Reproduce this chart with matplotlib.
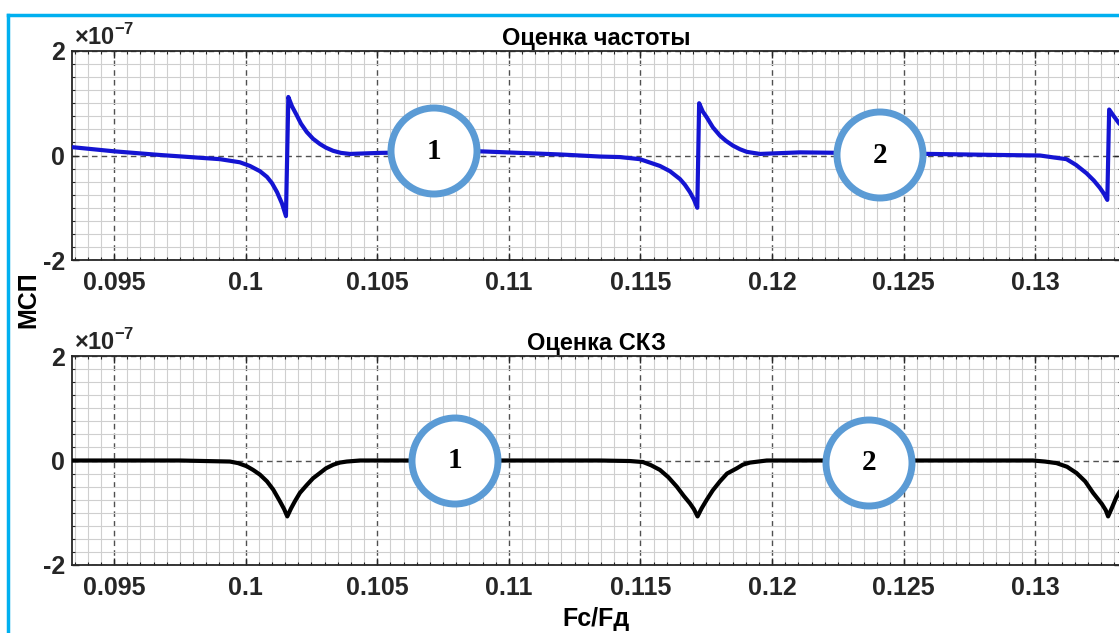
import matplotlib
matplotlib.use("Agg")
import matplotlib.pyplot as plt
from matplotlib.patches import Ellipse
from matplotlib.lines import Line2D
from matplotlib.ticker import FixedLocator, MultipleLocator
import numpy as np

plt.rcParams['font.family'] = ['Liberation Sans', 'DejaVu Sans']
plt.rcParams['font.weight'] = 'bold'
plt.rcParams['mathtext.fontset'] = 'custom'
plt.rcParams['mathtext.rm'] = 'Liberation Sans:bold'
plt.rcParams['mathtext.bf'] = 'Liberation Sans:bold'

# values in units of 1e-7
freq_x = [0.0934, 0.0950, 0.09674, 0.09902, 0.09978, 0.10016, 0.10054, 0.10081,
          0.10100, 0.10119, 0.10138, 0.10153, 0.10162, 0.10176, 0.10194, 0.10210,
          0.10232, 0.10256, 0.10282, 0.10305, 0.10332, 0.10362, 0.10396, 0.10510,
          0.10890, 0.11042, 0.11194, 0.11346, 0.11422, 0.11498, 0.11574, 0.11612,
          0.11650, 0.11669, 0.11688, 0.11703, 0.11716, 0.11723, 0.11737, 0.11752,
          0.11775, 0.11802, 0.11825, 0.11851, 0.11878, 0.11904, 0.11954, 0.12106,
          0.12600, 0.12866, 0.13018, 0.13074, 0.13119, 0.13155, 0.13195, 0.13223,
          0.13246, 0.13261, 0.13274, 0.13281, 0.13299, 0.13318, 0.13326]
freq_y = [0.16, 0.08, 0.01, -0.07, -0.13, -0.20, -0.30, -0.41,
          -0.53, -0.70, -0.92, -1.16, 1.12, 0.94, 0.77, 0.61,
          0.45, 0.32, 0.22, 0.15, 0.09, 0.05, 0.03, 0.05,
          0.08, 0.05, 0.02, -0.02, -0.03, -0.07, -0.20, -0.30,
          -0.45, -0.56, -0.70, -0.84, -1.00, 1.00, 0.84, 0.73,
          0.54, 0.38, 0.28, 0.19, 0.12, 0.07, 0.03, 0.06,
          0.03, 0.01, 0.00, -0.04, -0.07, -0.18, -0.34, -0.48,
          -0.62, -0.73, -0.85, 0.88, 0.75, 0.62, 0.58]

skz_x = [0.0934, 0.0975, 0.09940, 0.09971, 0.10004, 0.10028, 0.10054, 0.10081,
         0.10105, 0.10130, 0.10146, 0.10158, 0.10172, 0.10187, 0.10206, 0.10232,
         0.10256, 0.10282, 0.10305, 0.10333, 0.10358, 0.10384, 0.10434, 0.11346,
         0.11460, 0.11510, 0.11540, 0.11574, 0.11606, 0.11638, 0.11665, 0.11688,
         0.11703, 0.11717, 0.11732, 0.11752, 0.11775, 0.11802, 0.11829, 0.11866,
         0.11889, 0.11916, 0.11980, 0.12549, 0.12991, 0.13037, 0.13081, 0.13121,
         0.13157, 0.13190, 0.13220, 0.13253, 0.13268, 0.13277, 0.13292, 0.13307,
         0.13318, 0.13326]
skz_y = [0.0, 0.0, -0.02, -0.05, -0.11, -0.18, -0.27, -0.40,
         -0.56, -0.78, -0.93, -1.07, -0.92, -0.78, -0.62, -0.47,
         -0.34, -0.24, -0.15, -0.08, -0.04, -0.02, 0.0, 0.0,
         -0.01, -0.03, -0.09, -0.18, -0.32, -0.50, -0.68, -0.82,
         -0.93, -1.07, -0.92, -0.75, -0.57, -0.40, -0.25, -0.15,
         -0.08, -0.04, 0.0, 0.0, 0.0, -0.02, -0.05, -0.12,
         -0.24, -0.40, -0.62, -0.83, -0.95, -1.07, -0.90, -0.72,
         -0.62, -0.56]

xticks = [0.095, 0.1, 0.105, 0.11, 0.115, 0.12, 0.125, 0.13]
xticklabels = ['0.095', '0.1', '0.105', '0.11', '0.115', '0.12', '0.125', '0.13']
yticks = [-2, 0, 2]
titles = ['Оценка частоты', 'Оценка СКЗ']

W, H = 1119, 633
fig = plt.figure(figsize=(W / 100, H / 100), dpi=100)
fig.patch.set_facecolor('white')

ax1 = fig.add_axes([72 / W, (H - 260) / H, 1049 / W, 209 / H])
ax2 = fig.add_axes([72 / W, (H - 565) / H, 1049 / W, 209 / H])

for ax, x, y, c, t in [(ax1, freq_x, freq_y, '#1414d2', titles[0]),
                       (ax2, skz_x, skz_y, 'black', titles[1])]:
    ax.plot(x, y, color=c, lw=3, zorder=3, solid_joinstyle='round')
    ax.set_xlim(0.0934, 0.13326)
    ax.set_ylim(-2, 2)
    ax.xaxis.set_major_locator(FixedLocator(xticks))
    ax.set_xticklabels(xticklabels)
    ax.xaxis.set_minor_locator(MultipleLocator(0.0005))
    ax.set_yticks(yticks)
    ax.set_yticklabels([str(v) for v in yticks])
    ax.yaxis.set_minor_locator(MultipleLocator(0.25))
    ax.grid(which='minor', color='#cfcfcf', lw=0.8, ls='-')
    ax.grid(which='major', color='#505050', lw=1.0, ls=(0, (4, 3)))
    ax.set_axisbelow(True)
    ax.tick_params(which='both', direction='in', top=True, right=True,
                   colors='#262626', labelsize=18)
    ax.tick_params(which='major', length=5, width=1)
    ax.tick_params(which='minor', length=2.5, width=0.8)
    ax.tick_params(axis='x', pad=8)
    ax.tick_params(axis='y', pad=5)
    for s in ax.spines.values():
        s.set_color('#262626')
        s.set_linewidth(1.3)
    ax.set_title(t, fontsize=17, fontweight='bold', pad=4)
    ax.text(0.002, 1.005, r'$\times$10$^{-7}$', transform=ax.transAxes,
            ha='left', va='bottom', fontsize=17, color='#262626')

ax2.set_xlabel('Fc/Fд', fontsize=18, fontweight='bold', labelpad=5)
fig.text(28 / W, 1 - 300 / H, 'МСП', rotation=90, ha='center', va='center',
         fontsize=18, fontweight='bold')

# numbered circles
circles = [(434, 151, '1'), (880, 155, '2'), (455, 461, '1'), (869, 463, '2')]
for cx, cy, lab in circles:
    e = Ellipse((cx / W, 1 - cy / H), width=86 / W, height=86 / H,
                transform=fig.transFigure, facecolor='white',
                edgecolor='#5b9bd5', lw=5, zorder=10)
    fig.add_artist(e)
    fig.text(cx / W, 1 - cy / H, lab, ha='center', va='center', fontsize=21,
             fontweight='bold', family='Liberation Serif', zorder=11)

# light blue frame
fig.add_artist(Line2D([8 / W, 1], [1 - 15 / H, 1 - 15 / H],
                      transform=fig.transFigure, color='#00b0f0', lw=2.5))
fig.add_artist(Line2D([8 / W, 8 / W], [0, 1 - 15 / H],
                      transform=fig.transFigure, color='#00b0f0', lw=2.5))

fig.savefig('out.png', dpi=100)
